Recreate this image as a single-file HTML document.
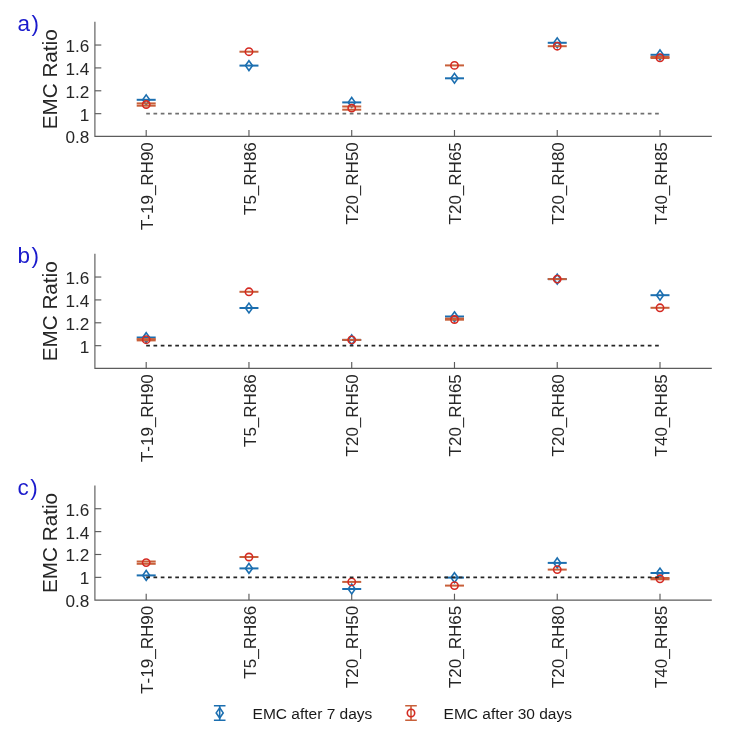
<!DOCTYPE html>
<html><head><meta charset="utf-8"><style>
html,body{margin:0;padding:0;background:#fff;}
body{width:729px;height:738px;overflow:hidden;}
svg{display:block;font-family:"Liberation Sans", sans-serif;filter:blur(0.45px);font-kerning:none;}
</style></head><body>
<svg width="729" height="738" viewBox="0 0 729 738"><rect width="729" height="738" fill="#fff"/><g><text x="17.6" y="30.8" font-size="22.5" fill="#1a1acc">a<tspan dx="1.3">)</tspan></text><text transform="translate(56.7,79.3) rotate(-90)" text-anchor="middle" font-size="20.7" fill="#262626">EMC Ratio</text><path d="M94.9 21.8V136.4H711.8" fill="none" stroke="#5c5c5c" stroke-width="1.15"/><text x="89.4" y="143.45" text-anchor="end" font-size="17.2" fill="#262626">0.8</text><path d="M94.9 113.67h6.4" stroke="#5c5c5c" stroke-width="1.15"/><text x="89.4" y="120.57" text-anchor="end" font-size="17.2" fill="#262626">1</text><path d="M94.9 90.79h6.4" stroke="#5c5c5c" stroke-width="1.15"/><text x="89.4" y="97.69" text-anchor="end" font-size="17.2" fill="#262626">1.2</text><path d="M94.9 67.91h6.4" stroke="#5c5c5c" stroke-width="1.15"/><text x="89.4" y="74.81" text-anchor="end" font-size="17.2" fill="#262626">1.4</text><path d="M94.9 45.03h6.4" stroke="#5c5c5c" stroke-width="1.15"/><text x="89.4" y="51.93" text-anchor="end" font-size="17.2" fill="#262626">1.6</text><path d="M146.2 136.4v-6.4" stroke="#5c5c5c" stroke-width="1.15"/><text transform="translate(152.8,142.2) rotate(-90)" text-anchor="end" font-size="17" fill="#262626">T-19_RH90</text><path d="M248.96 136.4v-6.4" stroke="#5c5c5c" stroke-width="1.15"/><text transform="translate(255.56,142.2) rotate(-90)" text-anchor="end" font-size="17" fill="#262626">T5_RH86</text><path d="M351.72 136.4v-6.4" stroke="#5c5c5c" stroke-width="1.15"/><text transform="translate(358.32,142.2) rotate(-90)" text-anchor="end" font-size="17" fill="#262626">T20_RH50</text><path d="M454.48 136.4v-6.4" stroke="#5c5c5c" stroke-width="1.15"/><text transform="translate(461.08,142.2) rotate(-90)" text-anchor="end" font-size="17" fill="#262626">T20_RH65</text><path d="M557.24 136.4v-6.4" stroke="#5c5c5c" stroke-width="1.15"/><text transform="translate(563.84,142.2) rotate(-90)" text-anchor="end" font-size="17" fill="#262626">T20_RH80</text><path d="M660 136.4v-6.4" stroke="#5c5c5c" stroke-width="1.15"/><text transform="translate(666.6,142.2) rotate(-90)" text-anchor="end" font-size="17" fill="#262626">T40_RH85</text><path d="M136.7 99.8H155.7" stroke="#1c6fb0" stroke-width="2.0"/><path d="M146.2 94.9L149.7 99.8L146.2 104.7L142.7 99.8Z" fill="none" stroke="#1c6fb0" stroke-width="1.6"/><path d="M136.7 103.4H155.7" stroke="#c8603a" stroke-width="2.0"/><path d="M136.7 105.7H155.7" stroke="#c8603a" stroke-width="2.0"/><circle cx="146.2" cy="104.5" r="3.65" fill="none" stroke="#d42a22" stroke-width="1.6"/><path d="M239.46 65.6H258.46" stroke="#1c6fb0" stroke-width="2.0"/><path d="M248.96 60.7L252.46 65.6L248.96 70.5L245.46 65.6Z" fill="none" stroke="#1c6fb0" stroke-width="1.6"/><path d="M239.46 51.7H258.46" stroke="#c8603a" stroke-width="2.0"/><circle cx="248.96" cy="51.7" r="3.65" fill="none" stroke="#d42a22" stroke-width="1.6"/><path d="M342.22 102.4H361.22" stroke="#1c6fb0" stroke-width="2.0"/><path d="M351.72 97.5L355.22 102.4L351.72 107.3L348.22 102.4Z" fill="none" stroke="#1c6fb0" stroke-width="1.6"/><path d="M342.22 106.5H361.22" stroke="#c8603a" stroke-width="2.0"/><path d="M342.22 109.7H361.22" stroke="#c8603a" stroke-width="2.0"/><circle cx="351.72" cy="108.1" r="3.65" fill="none" stroke="#d42a22" stroke-width="1.6"/><path d="M444.98 78.3H463.98" stroke="#1c6fb0" stroke-width="2.0"/><path d="M454.48 73.4L457.98 78.3L454.48 83.2L450.98 78.3Z" fill="none" stroke="#1c6fb0" stroke-width="1.6"/><path d="M444.98 65.4H463.98" stroke="#c8603a" stroke-width="2.0"/><circle cx="454.48" cy="65.4" r="3.65" fill="none" stroke="#d42a22" stroke-width="1.6"/><path d="M547.74 42.8H566.74" stroke="#1c6fb0" stroke-width="2.0"/><path d="M557.24 37.9L560.74 42.8L557.24 47.7L553.74 42.8Z" fill="none" stroke="#1c6fb0" stroke-width="1.6"/><path d="M547.74 46.2H566.74" stroke="#c8603a" stroke-width="2.0"/><circle cx="557.24" cy="46.2" r="3.65" fill="none" stroke="#d42a22" stroke-width="1.6"/><path d="M650.5 54.8H669.5" stroke="#1c6fb0" stroke-width="2.0"/><path d="M660 50L663.5 54.9L660 59.8L656.5 54.9Z" fill="none" stroke="#1c6fb0" stroke-width="1.6"/><path d="M650.5 56.9H669.5" stroke="#c8603a" stroke-width="2.0"/><path d="M650.5 58H669.5" stroke="#c8603a" stroke-width="2.0"/><circle cx="660" cy="57.8" r="3.65" fill="none" stroke="#d42a22" stroke-width="1.6"/><path d="M146.2 113.67H660" stroke="#707070" stroke-width="1.8" stroke-dasharray="3.7 3.57"/></g><g><text x="17.6" y="262.8" font-size="22.5" fill="#1a1acc">b<tspan dx="1.3">)</tspan></text><text transform="translate(56.7,311.3) rotate(-90)" text-anchor="middle" font-size="20.7" fill="#262626">EMC Ratio</text><path d="M94.9 253.8V368.4H711.8" fill="none" stroke="#5c5c5c" stroke-width="1.15"/><path d="M94.9 345.67h6.4" stroke="#5c5c5c" stroke-width="1.15"/><text x="89.4" y="352.57" text-anchor="end" font-size="17.2" fill="#262626">1</text><path d="M94.9 322.79h6.4" stroke="#5c5c5c" stroke-width="1.15"/><text x="89.4" y="329.69" text-anchor="end" font-size="17.2" fill="#262626">1.2</text><path d="M94.9 299.91h6.4" stroke="#5c5c5c" stroke-width="1.15"/><text x="89.4" y="306.81" text-anchor="end" font-size="17.2" fill="#262626">1.4</text><path d="M94.9 277.03h6.4" stroke="#5c5c5c" stroke-width="1.15"/><text x="89.4" y="283.93" text-anchor="end" font-size="17.2" fill="#262626">1.6</text><path d="M146.2 368.4v-6.4" stroke="#5c5c5c" stroke-width="1.15"/><text transform="translate(152.8,374.2) rotate(-90)" text-anchor="end" font-size="17" fill="#262626">T-19_RH90</text><path d="M248.96 368.4v-6.4" stroke="#5c5c5c" stroke-width="1.15"/><text transform="translate(255.56,374.2) rotate(-90)" text-anchor="end" font-size="17" fill="#262626">T5_RH86</text><path d="M351.72 368.4v-6.4" stroke="#5c5c5c" stroke-width="1.15"/><text transform="translate(358.32,374.2) rotate(-90)" text-anchor="end" font-size="17" fill="#262626">T20_RH50</text><path d="M454.48 368.4v-6.4" stroke="#5c5c5c" stroke-width="1.15"/><text transform="translate(461.08,374.2) rotate(-90)" text-anchor="end" font-size="17" fill="#262626">T20_RH65</text><path d="M557.24 368.4v-6.4" stroke="#5c5c5c" stroke-width="1.15"/><text transform="translate(563.84,374.2) rotate(-90)" text-anchor="end" font-size="17" fill="#262626">T20_RH80</text><path d="M660 368.4v-6.4" stroke="#5c5c5c" stroke-width="1.15"/><text transform="translate(666.6,374.2) rotate(-90)" text-anchor="end" font-size="17" fill="#262626">T40_RH85</text><path d="M136.7 337.5H155.7" stroke="#1c6fb0" stroke-width="2.0"/><path d="M146.2 332.7L149.7 337.6L146.2 342.5L142.7 337.6Z" fill="none" stroke="#1c6fb0" stroke-width="1.6"/><path d="M136.7 339.1H155.7" stroke="#c8603a" stroke-width="2.0"/><path d="M136.7 340.4H155.7" stroke="#c8603a" stroke-width="2.0"/><circle cx="146.2" cy="339.7" r="3.65" fill="none" stroke="#d42a22" stroke-width="1.6"/><path d="M239.46 308H258.46" stroke="#1c6fb0" stroke-width="2.0"/><path d="M248.96 303.1L252.46 308L248.96 312.9L245.46 308Z" fill="none" stroke="#1c6fb0" stroke-width="1.6"/><path d="M239.46 291.8H258.46" stroke="#c8603a" stroke-width="2.0"/><circle cx="248.96" cy="291.8" r="3.65" fill="none" stroke="#d42a22" stroke-width="1.6"/><path d="M342.22 339.9H361.22" stroke="#1c6fb0" stroke-width="2.0"/><path d="M351.72 335L355.22 339.9L351.72 344.8L348.22 339.9Z" fill="none" stroke="#1c6fb0" stroke-width="1.6"/><path d="M342.22 339.9H361.22" stroke="#c8603a" stroke-width="2.0"/><circle cx="351.72" cy="339.9" r="3.65" fill="none" stroke="#d42a22" stroke-width="1.6"/><path d="M444.98 316.5H463.98" stroke="#1c6fb0" stroke-width="2.0"/><path d="M454.48 311.8L457.98 316.7L454.48 321.6L450.98 316.7Z" fill="none" stroke="#1c6fb0" stroke-width="1.6"/><path d="M444.98 318.6H463.98" stroke="#c8603a" stroke-width="2.0"/><path d="M444.98 319.7H463.98" stroke="#c8603a" stroke-width="2.0"/><circle cx="454.48" cy="319.5" r="3.65" fill="none" stroke="#d42a22" stroke-width="1.6"/><path d="M547.74 279.1H566.74" stroke="#1c6fb0" stroke-width="2.0"/><path d="M557.24 274.2L560.74 279.1L557.24 284L553.74 279.1Z" fill="none" stroke="#1c6fb0" stroke-width="1.6"/><path d="M547.74 279.1H566.74" stroke="#c8603a" stroke-width="2.0"/><circle cx="557.24" cy="279.1" r="3.65" fill="none" stroke="#d42a22" stroke-width="1.6"/><path d="M650.5 295.2H669.5" stroke="#1c6fb0" stroke-width="2.0"/><path d="M660 290.3L663.5 295.2L660 300.1L656.5 295.2Z" fill="none" stroke="#1c6fb0" stroke-width="1.6"/><path d="M650.5 307.8H669.5" stroke="#c8603a" stroke-width="2.0"/><circle cx="660" cy="307.8" r="3.65" fill="none" stroke="#d42a22" stroke-width="1.6"/><path d="M146.2 345.67H660" stroke="#262626" stroke-width="1.6" stroke-dasharray="3.7 3.57"/></g><g><text x="17.6" y="494.5" font-size="22.5" fill="#1a1acc">c<tspan dx="1.3">)</tspan></text><text transform="translate(56.7,543) rotate(-90)" text-anchor="middle" font-size="20.7" fill="#262626">EMC Ratio</text><path d="M94.9 485.5V600.1H711.8" fill="none" stroke="#5c5c5c" stroke-width="1.15"/><text x="89.4" y="607.15" text-anchor="end" font-size="17.2" fill="#262626">0.8</text><path d="M94.9 577.37h6.4" stroke="#5c5c5c" stroke-width="1.15"/><text x="89.4" y="584.27" text-anchor="end" font-size="17.2" fill="#262626">1</text><path d="M94.9 554.49h6.4" stroke="#5c5c5c" stroke-width="1.15"/><text x="89.4" y="561.39" text-anchor="end" font-size="17.2" fill="#262626">1.2</text><path d="M94.9 531.61h6.4" stroke="#5c5c5c" stroke-width="1.15"/><text x="89.4" y="538.51" text-anchor="end" font-size="17.2" fill="#262626">1.4</text><path d="M94.9 508.73h6.4" stroke="#5c5c5c" stroke-width="1.15"/><text x="89.4" y="515.63" text-anchor="end" font-size="17.2" fill="#262626">1.6</text><path d="M146.2 600.1v-6.4" stroke="#5c5c5c" stroke-width="1.15"/><text transform="translate(152.8,605.9) rotate(-90)" text-anchor="end" font-size="17" fill="#262626">T-19_RH90</text><path d="M248.96 600.1v-6.4" stroke="#5c5c5c" stroke-width="1.15"/><text transform="translate(255.56,605.9) rotate(-90)" text-anchor="end" font-size="17" fill="#262626">T5_RH86</text><path d="M351.72 600.1v-6.4" stroke="#5c5c5c" stroke-width="1.15"/><text transform="translate(358.32,605.9) rotate(-90)" text-anchor="end" font-size="17" fill="#262626">T20_RH50</text><path d="M454.48 600.1v-6.4" stroke="#5c5c5c" stroke-width="1.15"/><text transform="translate(461.08,605.9) rotate(-90)" text-anchor="end" font-size="17" fill="#262626">T20_RH65</text><path d="M557.24 600.1v-6.4" stroke="#5c5c5c" stroke-width="1.15"/><text transform="translate(563.84,605.9) rotate(-90)" text-anchor="end" font-size="17" fill="#262626">T20_RH80</text><path d="M660 600.1v-6.4" stroke="#5c5c5c" stroke-width="1.15"/><text transform="translate(666.6,605.9) rotate(-90)" text-anchor="end" font-size="17" fill="#262626">T40_RH85</text><path d="M136.7 575.4H155.7" stroke="#1c6fb0" stroke-width="2.0"/><path d="M146.2 570.5L149.7 575.4L146.2 580.3L142.7 575.4Z" fill="none" stroke="#1c6fb0" stroke-width="1.6"/><path d="M136.7 561.5H155.7" stroke="#c8603a" stroke-width="2.0"/><path d="M136.7 563.8H155.7" stroke="#c8603a" stroke-width="2.0"/><circle cx="146.2" cy="562.6" r="3.65" fill="none" stroke="#d42a22" stroke-width="1.6"/><path d="M239.46 568.4H258.46" stroke="#1c6fb0" stroke-width="2.0"/><path d="M248.96 563.5L252.46 568.4L248.96 573.3L245.46 568.4Z" fill="none" stroke="#1c6fb0" stroke-width="1.6"/><path d="M239.46 557H258.46" stroke="#c8603a" stroke-width="2.0"/><circle cx="248.96" cy="557" r="3.65" fill="none" stroke="#d42a22" stroke-width="1.6"/><path d="M342.22 589H361.22" stroke="#1c6fb0" stroke-width="2.0"/><path d="M351.72 584.1L355.22 589L351.72 593.9L348.22 589Z" fill="none" stroke="#1c6fb0" stroke-width="1.6"/><path d="M342.22 581.9H361.22" stroke="#c8603a" stroke-width="2.0"/><circle cx="351.72" cy="581.9" r="3.65" fill="none" stroke="#d42a22" stroke-width="1.6"/><path d="M444.98 577.6H463.98" stroke="#1c6fb0" stroke-width="2.0"/><path d="M454.48 572.7L457.98 577.6L454.48 582.5L450.98 577.6Z" fill="none" stroke="#1c6fb0" stroke-width="1.6"/><path d="M444.98 585.6H463.98" stroke="#c8603a" stroke-width="2.0"/><circle cx="454.48" cy="585.6" r="3.65" fill="none" stroke="#d42a22" stroke-width="1.6"/><path d="M547.74 562.9H566.74" stroke="#1c6fb0" stroke-width="2.0"/><path d="M557.24 558L560.74 562.9L557.24 567.8L553.74 562.9Z" fill="none" stroke="#1c6fb0" stroke-width="1.6"/><path d="M547.74 569.6H566.74" stroke="#c8603a" stroke-width="2.0"/><circle cx="557.24" cy="569.6" r="3.65" fill="none" stroke="#d42a22" stroke-width="1.6"/><path d="M650.5 573H669.5" stroke="#1c6fb0" stroke-width="2.0"/><path d="M660 568.1L663.5 573L660 577.9L656.5 573Z" fill="none" stroke="#1c6fb0" stroke-width="1.6"/><path d="M650.5 578H669.5" stroke="#c8603a" stroke-width="2.0"/><path d="M650.5 579.3H669.5" stroke="#c8603a" stroke-width="2.0"/><circle cx="660" cy="578.8" r="3.65" fill="none" stroke="#d42a22" stroke-width="1.6"/><path d="M146.2 577.37H660" stroke="#262626" stroke-width="1.6" stroke-dasharray="3.7 3.57"/></g><path d="M213.9 705.7H225.5M213.9 720.2H225.5M219.7 705.7V720.2" stroke="#1c6fb0" stroke-width="1.6" fill="none"/><path d="M219.7 707.8L223.2 712.9L219.7 718.0L216.2 712.9Z" fill="none" stroke="#1c6fb0" stroke-width="1.6"/><text x="252.6" y="719.0" font-size="15.5" fill="#1a1a1a">EMC after 7 days</text><path d="M405.2 705.7H416.8M405.2 720.2H416.8M411 705.7V720.2" stroke="#c8603a" stroke-width="1.6" fill="none"/><circle cx="411" cy="713" r="3.7" fill="none" stroke="#d42a22" stroke-width="1.6"/><text x="443.6" y="719.0" font-size="15.5" fill="#1a1a1a">EMC after 30 days</text></svg>
</body></html>
